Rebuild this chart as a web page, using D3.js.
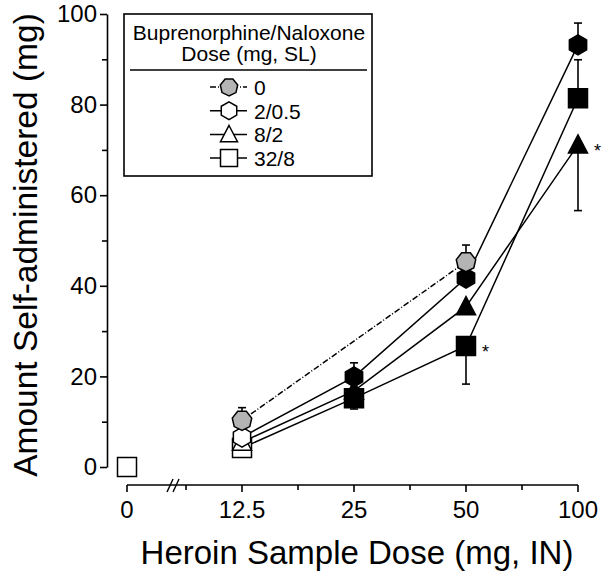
<!DOCTYPE html>
<meta charset="utf-8">
<head>
<title>Heroin self-administration</title>
<script src="https://cdnjs.cloudflare.com/ajax/libs/d3/7.8.5/d3.min.js"></script>
<style>
  body { margin: 0; background: #fff; }
  text { font-family: "Liberation Sans", Arial, sans-serif; fill: #000; }
</style>
</head>
<body>
<div id="chart"></div>
<script>
  // heroin sample doses on the log axis
  var doses = [12.5, 25, 50, 100];
  var yTicks = [0, 20, 40, 60, 80, 100];
  var yMinor = [10, 30, 50, 70, 90];
  var xMinor = [8.84, 17.68, 35.36, 70.71];

  var seriesNames = ["0", "2/0.5", "8/2", "32/8"];
  var seriesShapes = ["hept", "hex", "tri", "square"];
  var seriesDash = ["6,2,1,2", null, null, null];

  // mean amount per dose (12.5, 25, 50, 100); null = not shown
  var valsPlacebo = [10.3, null, 45.3, null];
  var valsLow = [6.6, 19.9, 41.7, 93.2];
  var valsMid = [5.5, 16.8, 35.4, 71.1];
  var valsHigh = [4.2, 15.2, 26.7, 81.4];

  // one sided error, positive = bar drawn up, negative = drawn down
  var errPlacebo = [2.8, null, 3.7, null];
  var errLow = [null, 3.1, null, 4.8];
  var errMid = [null, null, null, -14.5];
  var errHigh = [null, -2.4, -8.4, 8.5];

  // significance stars, by dose
  var starMid = [100];
  var starHigh = [50];

  // heroin 0 mg point (32/8 group)
  var zeroDoseVal = 0;

  var WIDTH = 604, HEIGHT = 582;
  var svg = d3.select("#chart").append("svg")
    .attr("width", WIDTH)
    .attr("height", HEIGHT);

  var y = d3.scaleLinear().domain([0, 100]).range([467, 14]);
  var x = d3.scaleLog().base(2).domain([12.5, 100]).range([242, 578]);
  var xZero = 127;   // position of the 0 dose, left of the axis break
  var axisY = 485;

  function shape(type, s) {
    var pts = [], i, r = s / 2;
    if (type == "square") {
      return "M" + (-r) + "," + (-r) + "h" + s + "v" + s + "h" + (-s) + "Z";
    }
    if (type == "tri") {
      return "M0," + (-r * 1.05) + "L" + r + "," + (r * 0.85) + "L" + (-r) + "," + (r * 0.85) + "Z";
    }
    var n = type == "hex" ? 6 : 7;
    var start = type == "hex" ? -Math.PI / 2 : Math.PI / 2;
    for (i = 0; i < n; i++) {
      var a = start + i * 2 * Math.PI / n;
      pts.push([r * 1.05 * Math.cos(a), r * 1.05 * Math.sin(a)]);
    }
    return "M" + pts.join("L") + "Z";
  }

  // ---- y axis
  var yAxis = svg.append("g")
    .attr("transform", "translate(107,0)")
    .call(d3.axisLeft(y).tickValues(yTicks).tickSize(7).tickPadding(3).tickSizeOuter(0));
  svg.append("g")
    .attr("transform", "translate(107,0)")
    .call(d3.axisLeft(y).tickValues(yMinor).tickSize(5).tickFormat("").tickSizeOuter(0))
    .select(".domain").remove();
  yAxis.selectAll("text").style("font-size", "24px").style("font-family", "Liberation Sans, Arial");
  svg.selectAll(".domain, .tick line").attr("stroke", "#000").attr("stroke-width", 1.6);

  // ---- x axis (0 | break | log scale)
  var xg = svg.append("g");
  xg.append("line")
    .attr("x1", xZero).attr("x2", x.range()[1])
    .attr("y1", axisY).attr("y2", axisY)
    .attr("stroke", "#000").attr("stroke-width", 1.6);
  var xTickVals = [0].concat(doses);
  function xPos(d) { return d === 0 ? xZero : x(d); }
  xg.selectAll(".xt").data(xTickVals).enter().append("line")
    .attr("x1", xPos).attr("x2", xPos)
    .attr("y1", axisY).attr("y2", axisY + 7)
    .attr("stroke", "#000").attr("stroke-width", 1.6);
  xg.selectAll(".xm").data(xMinor).enter().append("line")
    .attr("x1", function(d) { return x(d); }).attr("x2", function(d) { return x(d); })
    .attr("y1", axisY).attr("y2", axisY + 5)
    .attr("stroke", "#000").attr("stroke-width", 1.6);
  xg.selectAll(".xl").data(xTickVals).enter().append("text")
    .attr("x", xPos).attr("y", axisY + 33)
    .attr("text-anchor", "middle")
    .style("font-size", "24px")
    .text(function(d) { return d; });

  // axis break marks
  var brk = x(xMinor[0]) - 16;
  [0, 6].forEach(function(o) {
    xg.append("line")
      .attr("x1", brk + o - 3).attr("y1", axisY + 7)
      .attr("x2", brk + o + 3).attr("y2", axisY - 6)
      .attr("stroke", "#000").attr("stroke-width", 1.4);
  });

  // titles
  svg.append("text")
    .attr("x", 357).attr("y", 564)
    .attr("text-anchor", "middle")
    .style("font-size", "33px")
    .text("Heroin Sample Dose (mg, IN)");
  svg.append("text")
    .attr("transform", "translate(37,245) rotate(-90)")
    .attr("text-anchor", "middle")
    .style("font-size", "33.5px")
    .text("Amount Self-administered (mg)");

  // ---- data
  var allVals = [valsPlacebo, valsLow, valsMid, valsHigh];
  var allErr = [errPlacebo, errLow, errMid, errHigh];
  var allStars = [[], [], starMid, starHigh];

  var series = allVals.map(function(v, i) {
    return {
      name: seriesNames[i], shape: seriesShapes[i], dash: seriesDash[i], stars: allStars[i],
      pts: doses.map(function(d, j) { return { dose: d, val: v[j], err: allErr[i][j] }; })
                .filter(function(p) { return p.val !== null; })
    };
  });

  var line = d3.line()
    .x(function(p) { return x(p.dose); })
    .y(function(p) { return y(p.val); });

  series.forEach(function(s) {
    svg.append("path")
      .attr("d", line(s.pts))
      .attr("fill", "none")
      .attr("stroke", "#000")
      .attr("stroke-width", 1.5)
      .attr("stroke-dasharray", s.dash);
  });

  // error bars
  series.forEach(function(s) {
    s.pts.filter(function(p) { return p.err !== null; }).forEach(function(p) {
      var cx = x(p.dose), y1 = y(p.val), y2 = y(p.val + p.err);
      svg.append("line").attr("x1", cx).attr("x2", cx).attr("y1", y1).attr("y2", y2)
        .attr("stroke", "#000").attr("stroke-width", 1.6);
      svg.append("line").attr("x1", cx - 4).attr("x2", cx + 4).attr("y1", y2).attr("y2", y2)
        .attr("stroke", "#000").attr("stroke-width", 1.6);
    });
  });

  function markerFill(s, dose) {
    if (s.shape == "hept") return "#b4b4b4";
    return dose <= 12.5 ? "#fff" : "#000";
  }

  // markers, drawn back to front (32/8 first, placebo on top)
  series.slice().reverse().forEach(function(s) {
    svg.selectAll(null).data(s.pts).enter().append("path")
      .attr("d", shape(s.shape, 19))
      .attr("transform", function(p) { return "translate(" + x(p.dose) + "," + y(p.val) + ")"; })
      .attr("fill", function(p) { return markerFill(s, p.dose); })
      .attr("stroke", "#000")
      .attr("stroke-width", 1.5);
    s.stars.forEach(function(d) {
      var p = s.pts.filter(function(q) { return q.dose == d; })[0];
      svg.append("text")
        .attr("x", x(d) + 16).attr("y", y(p.val) + 12)
        .style("font-size", "18px")
        .text("*");
    });
  });

  // heroin 0 mg point
  svg.append("path")
    .attr("d", shape("square", 19))
    .attr("transform", "translate(" + xZero + "," + y(zeroDoseVal) + ")")
    .attr("fill", "#fff").attr("stroke", "#000").attr("stroke-width", 1.5);

  // ---- legend
  var lg = svg.append("g");
  lg.append("rect")
    .attr("x", 124).attr("y", 14).attr("width", 248).attr("height", 162)
    .attr("fill", "#fff").attr("stroke", "#000").attr("stroke-width", 1.6);
  lg.append("text").attr("x", 249).attr("y", 40).attr("text-anchor", "middle")
    .style("font-size", "21px").text("Buprenorphine/Naloxone");
  lg.append("text").attr("x", 249).attr("y", 61).attr("text-anchor", "middle")
    .style("font-size", "21px").text("Dose (mg, SL)");
  lg.append("line").attr("x1", 130).attr("x2", 367).attr("y1", 70).attr("y2", 70)
    .attr("stroke", "#000").attr("stroke-width", 1.6);

  series.forEach(function(s, i) {
    var ly = 87 + i * 23.7;
    lg.append("line").attr("x1", 210).attr("x2", 247).attr("y1", ly).attr("y2", ly)
      .attr("stroke", "#000").attr("stroke-width", 1.5).attr("stroke-dasharray", s.dash);
    lg.append("path")
      .attr("d", shape(s.shape, 17))
      .attr("transform", "translate(229," + ly + ")")
      .attr("fill", s.shape == "hept" ? "#b4b4b4" : "#fff")
      .attr("stroke", "#000").attr("stroke-width", 1.5);
    lg.append("text").attr("x", 254).attr("y", ly + 8)
      .style("font-size", "21px").text(s.name);
  });
</script>
</body>
